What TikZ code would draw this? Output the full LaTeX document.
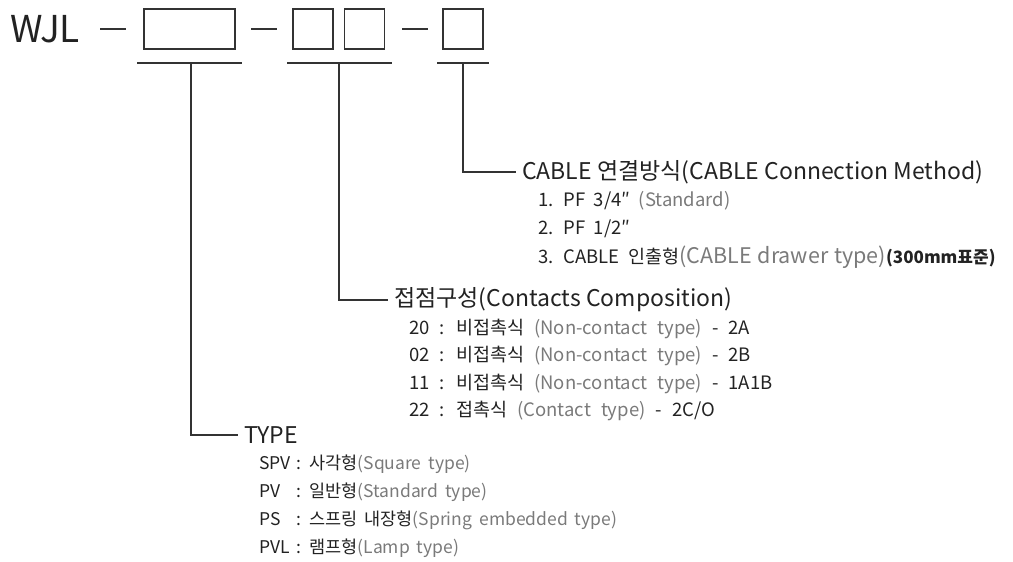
\documentclass[tikz,border=0pt]{standalone}
\usepackage{fontspec}
\setmainfont{Noto Sans CJK KR}
\definecolor{ink}{HTML}{222222}
\definecolor{soft}{HTML}{7A7A7A}
\definecolor{rule}{HTML}{333333}
\newcommand{\cfnt}{\fontsize{18.5}{22}\selectfont\spaceskip=8.5pt\relax}
\newcommand{\kfnt}{\fontsize{18.5}{22}\selectfont\spaceskip=10pt\relax}
\newcommand{\tfnt}{\fontsize{17.5}{22}\selectfont\spaceskip=7pt\relax}
\newcommand{\dq}{″}
\tikzset{
  slot/.style={draw=rule, line width=1.4pt, minimum height=40pt, inner sep=0pt},
  conn/.style={draw=rule, line width=1.4pt},
  head/.style={anchor=west, inner sep=6pt, text=ink, font=\fontsize{23}{26}\selectfont},
  item/.style={anchor=west, inner sep=0pt, text=ink},
  citem/.style={item, font=\cfnt},
  kitem/.style={item, font=\kfnt},
  titem/.style={item, font=\tfnt},
}
\newcommand{\gr}[1]{\textcolor{soft}{#1}}
\newcommand{\lab}[1]{\makebox[37pt][l]{#1}}
\begin{document}
\begin{tikzpicture}[x=1pt,y=-1pt]
\useasboundingbox (0,0) rectangle (1013,562);
% top row
\node[anchor=west, inner sep=0pt, text=ink, font=\fontsize{37}{42}\selectfont] (wjl) at (10,29) {WJL};
\node[slot, minimum width=91pt] (b1) at (189.5,29) {};
\node[slot, minimum width=40pt] (b2) at (313,29) {};
\node[slot, minimum width=40pt] (b3) at (364.5,29) {};
\node[slot, minimum width=40pt] (b4) at (463,29) {};
\coordinate (d1a) at (100,29); \coordinate (d1b) at (126,29);
\coordinate (d2a) at (251,29); \coordinate (d2b) at (277,29);
\coordinate (d3a) at (402,29); \coordinate (d3b) at (428,29);
\draw[conn] (d1a) -- (d1b);
\draw[conn] (d2a) -- (d2b);
\draw[conn] (d3a) -- (d3b);
% underlines
\coordinate (u1a) at (137,63); \coordinate (u1b) at (242,63); \coordinate (u1) at (191,63);
\coordinate (u2a) at (287,63); \coordinate (u2b) at (392,63); \coordinate (u2) at (339,63);
\coordinate (u3a) at (437,63); \coordinate (u3b) at (489,63); \coordinate (u3) at (463,63);
\draw[conn] (u1a) -- (u1b);
\draw[conn] (u2a) -- (u2b);
\draw[conn] (u3a) -- (u3b);
% CABLE group
\node[head] (cable) at (516,172) {CABLE 연결방식(CABLE Connection Method)};
\node[citem] (c1) at (538,201) {1. PF 3/4\dq{} \gr{(Standard)}};
\node[citem] (c2) at (538,229) {2. PF 1/2\dq};
\node[citem] (c3) at (538,257) {3. CABLE 인출형\gr{\fontsize{21.5}{24}\selectfont\spaceskip=6pt\relax(CABLE drawer type)}{\fontsize{17}{22}\selectfont\bfseries(300mm표준)}};
\draw[conn] (u3) |- (cable.west);
% contacts group
\node[head] (cont) at (388,300) {접점구성(Contacts Composition)};
\node[kitem] (k1) at (409,329) {20 : 비접촉식 \gr{(Non-contact type)} - 2A};
\node[kitem] (k2) at (409,356) {02 : 비접촉식 \gr{(Non-contact type)} - 2B};
\node[kitem] (k3) at (409,384) {11 : 비접촉식 \gr{(Non-contact type)} - 1A1B};
\node[kitem] (k4) at (409,411) {22 : 접촉식 \gr{(Contact type)} - 2C/O};
\draw[conn] (u2) |- (cont.west);
% type group
\node[head] (type) at (238,435) {TYPE};
\node[titem] (t1) at (259,464) {\lab{SPV}: 사각형\gr{(Square type)}};
\node[titem] (t2) at (259,492) {\lab{PV}: 일반형\gr{(Standard type)}};
\node[titem] (t3) at (259,520) {\lab{PS}: 스프링 내장형\gr{(Spring embedded type)}};
\node[titem] (t4) at (259,548) {\lab{PVL}: 램프형\gr{(Lamp type)}};
\draw[conn] (u1) |- (type.west);
\end{tikzpicture}
\end{document}
